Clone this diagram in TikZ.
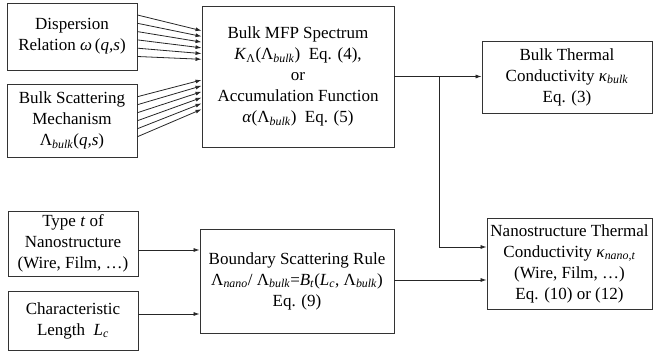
\documentclass[tikz,border=0pt]{standalone}
\usepackage{fontspec}
\newfontfamily\timesf{Liberation Serif}
\usetikzlibrary{arrows.meta,calc}
\newcommand{\sbi}[1]{\textsubscript{\textit{#1}}}
\begin{document}
\begin{tikzpicture}[x=1pt,y=-1pt,
  box/.style={draw=black!80,line width=0.9pt,rectangle,align=center,inner sep=0pt,
    font=\timesf\fontsize{17}{21}\selectfont},
  arr/.style={draw=black!85,line width=0.8pt,-{Latex[length=6pt,width=4pt]}}]
\useasboundingbox (0,0) rectangle (653,355);
\node[box,minimum width=130,minimum height=67] (disp) at (72,36.5)
  {Dispersion\\Relation \textit{ω}\,(\textit{q,s})};
\node[box,minimum width=130,minimum height=73] (scat) at (72,120.5)
  {Bulk Scattering\\Mechanism\\Λ\sbi{bulk}(\textit{q,s})};
\node[box,minimum width=192,minimum height=141] (mfp) at (298,76.5)
  {Bulk MFP Spectrum\\\textit{K}\textsubscript{Λ}(Λ\sbi{bulk})\ \ Eq. (4),\\or\\Accumulation Function\\\textit{α}(Λ\sbi{bulk})\ \ Eq. (5)};
\node[box,minimum width=170,minimum height=72] (bulkk) at (567,77)
  {Bulk Thermal\\Conductivity \textit{κ}\sbi{bulk}\\Eq. (3)};
\node[box,minimum width=130,minimum height=65] (type) at (73,243.5)
  {Type \textit{t} of\\Nanostructure\\(Wire, Film, …)};
\node[box,minimum width=130,minimum height=59] (charl) at (73,320.5)
  {Characteristic\\Length \ \textit{L}\sbi{c}};
\node[box,minimum width=194,minimum height=104] (bound) at (297,281)
  {Boundary Scattering Rule\\Λ\sbi{nano}/ Λ\sbi{bulk}=\textit{B}\sbi{t}(\textit{L}\sbi{c}, Λ\sbi{bulk})\\Eq. (9)};
\node[box,minimum width=165,minimum height=91] (nano) at (569.5,263.5)
  {Nanostructure Thermal\\Conductivity \textit{κ}\sbi{nano,t}\\(Wire, Film, …)\\Eq. (10) or (12)};
% fans
\foreach \i in {0,...,5}{
  \draw[arr] ([yshift={21.5-8.3*\i}]disp.east) -- ([yshift={45.8-5.72*\i}]mfp.west);
  \draw[arr] ([yshift={23.8-8*\i}]scat.east) -- ([yshift={-3.5-5.86*\i}]mfp.west);
}
\draw[arr] (mfp.east) -- (mfp.east -| bulkk.west);
\coordinate (j) at (439,76.5);
\draw[arr] (j) |- ([yshift=16.5]nano.west);
\draw[arr] ([yshift=1]bound.east) -- ([yshift=1]bound.east -| nano.west);
\draw[arr] ([yshift=-6.5]type.east) -- ([yshift=-6.5]type.east -| bound.west);
\draw[arr] ([yshift=6.5]charl.east) -- ([yshift=6.5]charl.east -| bound.west);
\end{tikzpicture}
\end{document}
